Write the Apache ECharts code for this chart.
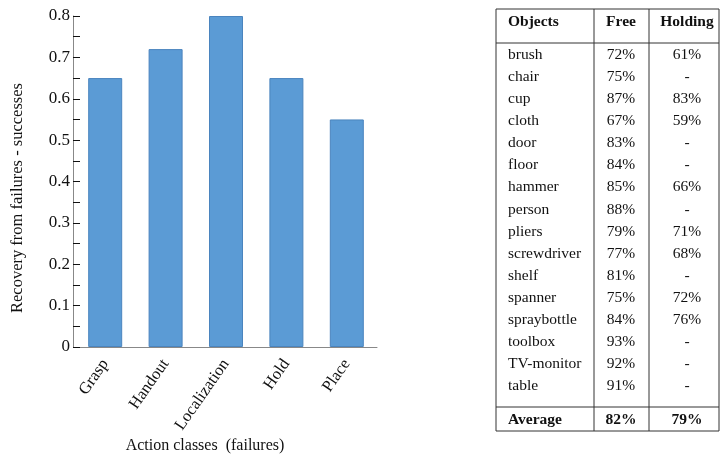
<!DOCTYPE html>
<html>
<head>
<meta charset="utf-8">
<script src="https://cdn.jsdelivr.net/npm/echarts@6/dist/echarts.min.js"></script>
<style>
  html, body { margin: 0; padding: 0; background: #fff; }
  #chart { width: 720px; height: 458px; }
</style>
</head>
<body>
<div id="chart"></div>
<script>
// Recovery rate per action class (failures)
const actionClasses = ['Grasp', 'Handout', 'Localization', 'Hold', 'Place'];
const recoveryRates = [0.65, 0.72, 0.80, 0.65, 0.55];
const yTicks = { min: 0, max: 0.8, interval: 0.1 };

// Per-object success table
const tableHeader = ['Objects', 'Free', 'Holding'];
const objectNames = ['brush', 'chair', 'cup', 'cloth', 'door', 'floor', 'hammer', 'person',
  'pliers', 'screwdriver', 'shelf', 'spanner', 'spraybottle', 'toolbox', 'TV-monitor', 'table'];
const freeRates = ['72%', '75%', '87%', '67%', '83%', '84%', '85%', '88%',
  '79%', '77%', '81%', '75%', '84%', '93%', '92%', '91%'];
const holdingRates = ['61%', '-', '83%', '59%', '-', '-', '66%', '-',
  '71%', '68%', '-', '72%', '76%', '-', '-', '-'];
const averageRow = ['Average', '82%', '79%'];

const SERIF = '"Liberation Serif", "Times New Roman", serif';
const INK = '#111';

// Table layout
const tbl = {
  left: 496, right: 719, top: 9, bottom: 431,
  col1: 594, col2: 649,
  headerY: 22, headerLine: 43,
  firstRowY: 55, rowStep: 22.07,
  avgLine: 407, avgY: 420,
  textX: 508, freeX: 621, holdX: 687,
  fontSize: 15.5
};

function line(x1, y1, x2, y2) {
  return { type: 'line', shape: { x1, y1, x2, y2 },
    style: { stroke: '#333', lineWidth: 1 }, silent: true };
}
function cell(text, x, y, align, bold) {
  return { type: 'text', x, y, silent: true,
    style: { text, fill: INK, font: (bold ? 'bold ' : '') + tbl.fontSize + 'px ' + SERIF,
      align, verticalAlign: 'middle' } };
}

const tableElements = [
  line(tbl.left, tbl.top, tbl.right, tbl.top),
  line(tbl.left, tbl.bottom, tbl.right, tbl.bottom),
  line(tbl.left, tbl.top, tbl.left, tbl.bottom),
  line(tbl.right, tbl.top, tbl.right, tbl.bottom),
  line(tbl.col1, tbl.top, tbl.col1, tbl.bottom),
  line(tbl.col2, tbl.top, tbl.col2, tbl.bottom),
  line(tbl.left, tbl.headerLine, tbl.right, tbl.headerLine),
  line(tbl.left, tbl.avgLine, tbl.right, tbl.avgLine),
  cell(tableHeader[0], tbl.textX, tbl.headerY, 'left', true),
  cell(tableHeader[1], tbl.freeX, tbl.headerY, 'center', true),
  cell(tableHeader[2], tbl.holdX, tbl.headerY, 'center', true),
  cell(averageRow[0], tbl.textX, tbl.avgY, 'left', true),
  cell(averageRow[1], tbl.freeX, tbl.avgY, 'center', true),
  cell(averageRow[2], tbl.holdX, tbl.avgY, 'center', true)
];
objectNames.forEach((name, i) => {
  const y = tbl.firstRowY + i * tbl.rowStep;
  tableElements.push(cell(name, tbl.textX, y, 'left', false));
  tableElements.push(cell(freeRates[i], tbl.freeX, y, 'center', false));
  tableElements.push(cell(holdingRates[i], tbl.holdX, y, 'center', false));
});

const chart = echarts.init(document.getElementById('chart'), null, { renderer: 'canvas' });
chart.setOption({
  animation: false,
  backgroundColor: '#fff',
  grid: { left: 75, top: 16, width: 302, height: 331, containLabel: false },
  xAxis: {
    type: 'category',
    data: actionClasses,
    axisLine: { lineStyle: { color: '#888', width: 1 } },
    axisTick: { show: false },
    axisLabel: { rotate: 55, margin: 14, color: INK, fontFamily: SERIF, fontSize: 16.5,
      align: 'right', verticalAlign: 'middle' }
  },
  yAxis: {
    type: 'value',
    min: yTicks.min, max: yTicks.max, interval: yTicks.interval,
    offset: 2,
    axisLine: { show: true, lineStyle: { color: '#888', width: 1 } },
    axisTick: { show: true, inside: true, length: 7, lineStyle: { color: '#111' } },
    minorTick: { show: true, splitNumber: 2, length: 7, lineStyle: { color: '#111' } },
    splitLine: { show: false },
    axisLabel: { margin: 3, color: INK, fontFamily: SERIF, fontSize: 17,
      formatter: v => (v === 0 ? '0' : v.toFixed(1)) }
  },
  series: [{
    type: 'bar',
    data: recoveryRates,
    barWidth: 34,
    itemStyle: { color: '#5b9bd5', borderColor: '#4a84be', borderWidth: 1 }
  }],
  graphic: [
    { type: 'text', x: 18, y: 198, rotation: Math.PI / 2, silent: true,
      style: { text: 'Recovery from failures - successes', fill: INK,
        font: '16.5px ' + SERIF, align: 'center', verticalAlign: 'middle' } },
    { type: 'text', x: 205, y: 446, silent: true,
      style: { text: 'Action classes  (failures)', fill: INK,
        font: '16px ' + SERIF, align: 'center', verticalAlign: 'middle' } },
    ...tableElements
  ]
});
</script>
</body>
</html>
